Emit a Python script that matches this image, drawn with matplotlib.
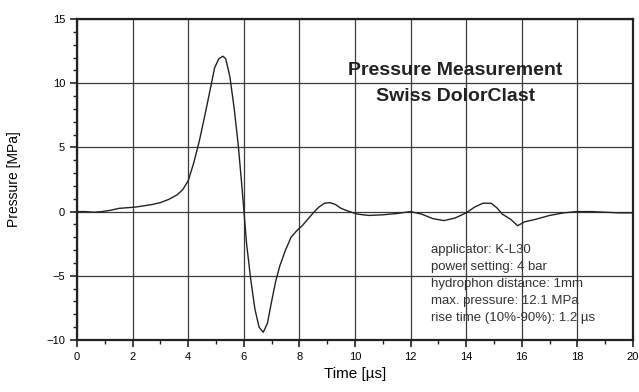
import numpy as np
import matplotlib.pyplot as plt
from matplotlib.ticker import MultipleLocator

plt.rcParams['font.family'] = ['Liberation Sans', 'DejaVu Sans']

# pressure trace
time_us = [0, 0.3, 0.6, 0.9, 1.2, 1.5, 1.8, 2.1, 2.4, 2.7, 3.0, 3.3, 3.6, 3.8,
           4.0, 4.2, 4.4, 4.6, 4.8, 4.95, 5.1, 5.25, 5.35, 5.5, 5.65, 5.8, 5.95,
           6.1, 6.25, 6.4, 6.55, 6.7, 6.85, 7.0, 7.15, 7.3, 7.5, 7.7, 7.9, 8.1,
           8.3, 8.5, 8.7, 8.9, 9.1, 9.3, 9.5, 9.8, 10.1, 10.5, 11.0, 11.5, 12.0,
           12.4, 12.8, 13.2, 13.6, 14.0, 14.3, 14.6, 14.9, 15.1, 15.3, 15.6,
           15.85, 16.1, 16.5, 17.0, 17.5, 18.0, 18.5, 19.0, 19.5, 20.0]
pressure_mpa = [0, 0.0, -0.05, 0.0, 0.1, 0.25, 0.3, 0.35, 0.45, 0.55, 0.7, 0.95,
                1.3, 1.7, 2.4, 3.8, 5.5, 7.5, 9.6, 11.2, 11.9, 12.1, 11.9, 10.5,
                8.1, 5.2, 1.5, -2.5, -5.3, -7.6, -9.0, -9.4, -8.7, -7.0, -5.4,
                -4.2, -3.0, -2.0, -1.5, -1.1, -0.6, -0.1, 0.35, 0.65, 0.7, 0.55,
                0.25, 0.0, -0.2, -0.3, -0.25, -0.15, 0.0, -0.2, -0.55, -0.7, -0.5,
                -0.1, 0.35, 0.65, 0.65, 0.3, -0.2, -0.6, -1.1, -0.8, -0.6, -0.3,
                -0.1, 0.0, 0.0, -0.05, -0.1, -0.1]

info_lines = ["applicator: K-L30",
              "power setting: 4 bar",
              "hydrophon distance: 1mm",
              "max. pressure: 12.1 MPa",
              "rise time (10%-90%): 1.2 \u00b5s"]

fig = plt.figure(figsize=(6.39, 3.92), dpi=100)
ax = fig.add_axes([0.1205, 0.1327, 0.8701, 0.8188])

ax.plot(time_us, pressure_mpa, color='#222222', lw=1.0)

ax.set_xlim(0, 20)
ax.set_ylim(-10, 15)
ax.xaxis.set_major_locator(MultipleLocator(2))
ax.xaxis.set_minor_locator(MultipleLocator(1))
ax.yaxis.set_major_locator(MultipleLocator(5))
ax.yaxis.set_minor_locator(MultipleLocator(1))
ax.grid(True, which='major', color='#3a3a3a', lw=0.9)
ax.tick_params(which='major', length=5, width=1.2, labelsize=8, color='#222222')
ax.tick_params(which='minor', length=3, width=1.0, color='#222222')
for s in ax.spines.values():
    s.set_linewidth(1.6)
    s.set_color('#222222')

ax.set_xlabel('Time [\u00b5s]', fontsize=11, labelpad=4)
ax.set_ylabel('Pressure [MPa]', fontsize=10, labelpad=18)

ax.text(13.6, 11.0, 'Pressure Measurement', ha='center', va='center',
        fontsize=14, fontweight='bold', color='#222222')
ax.text(13.6, 9.0, 'Swiss DolorClast', ha='center', va='center',
        fontsize=14, fontweight='bold', color='#222222')

for i, line in enumerate(info_lines):
    ax.text(12.75, -3.0 - i * 1.32, line, ha='left', va='center',
            fontsize=9.5, color='#333333')

fig.savefig('out.png', dpi=100)
